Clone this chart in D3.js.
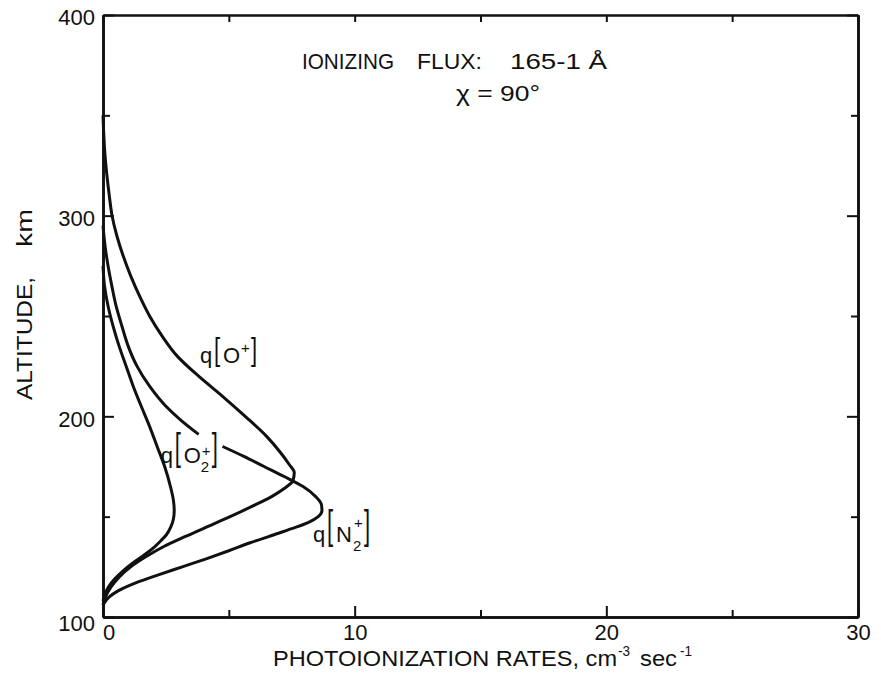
<!DOCTYPE html>
<html>
<head>
<meta charset="utf-8">
<script src="https://cdn.jsdelivr.net/npm/d3@7"></script>
<style>
  body { margin: 0; background: #fff; }
  text { font-family: "Liberation Sans", Arial, sans-serif; fill: #111; }
  .axis path, .axis line { stroke: #111; }
</style>
</head>
<body>
<script>
// altitude (km) and photoionization rate (cm^-3 sec^-1)
const oPlusAlt  = [350, 330, 310, 300, 290, 280, 270, 260, 250, 240, 230, 220, 210, 200, 190, 182, 176, 172, 168, 164, 160, 155, 150, 145, 140, 135, 130, 125, 120, 115, 110, 106];
const oPlusRate = [0, 0.08, 0.25, 0.36, 0.55, 0.8, 1.1, 1.45, 1.85, 2.35, 2.95, 3.8, 4.75, 5.65, 6.5, 7.05, 7.4, 7.6, 7.55, 7.2, 6.7, 5.9, 5.05, 4.15, 3.25, 2.4, 1.7, 1.1, 0.65, 0.32, 0.1, 0];

const n2PlusAlt  = [295, 285, 275, 265, 255, 245, 235, 225, 215, 205, 198, 191, 188, 185, 180, 175, 170, 165, 160, 156, 153, 150, 147, 144, 141, 137, 133, 129, 125, 121, 117, 113, 110, 106];
const n2PlusRate = [0, 0.08, 0.2, 0.35, 0.52, 0.75, 1.0, 1.35, 1.85, 2.5, 3.1, 3.8, null, 4.75, 5.6, 6.4, 7.2, 7.95, 8.45, 8.68, 8.7, 8.55, 8.15, 7.5, 6.8, 5.85, 5.0, 4.1, 3.15, 2.2, 1.3, 0.6, 0.25, 0];

const o2PlusAlt  = [275, 265, 255, 245, 235, 225, 215, 205, 195, 185, 175, 165, 158, 153, 149, 145, 141, 138, 135, 131, 127, 123, 119, 115, 111, 108];
const o2PlusRate = [0, 0.06, 0.2, 0.4, 0.64, 0.92, 1.2, 1.52, 1.85, 2.15, 2.45, 2.68, 2.8, 2.83, 2.8, 2.7, 2.52, 2.3, 2.05, 1.65, 1.2, 0.8, 0.47, 0.22, 0.07, 0];

const xMajor = [0, 10, 20, 30];
const xMinor = [5, 15, 25];
const yMajor = [100, 200, 300, 400];
const yMinor = [150, 250, 350];

const margin = {top: 15, right: 23, bottom: 63, left: 103},
      width = 881 - margin.left - margin.right,
      height = 680 - margin.top - margin.bottom;

const x = d3.scaleLinear().domain([0, 30]).range([0, width]);
const y = d3.scaleLinear().domain([100, 400]).range([height, 0]);

const svg = d3.select("body").append("svg")
              .attr("width", 881)
              .attr("height", 680);

const g = svg.append("g").attr("transform", "translate(" + margin.left + "," + margin.top + ")");

// frame + inward ticks on all four sides
function styleAxis(sel) {
  sel.select(".domain").attr("stroke-width", 2.6);
  sel.selectAll(".tick line").attr("stroke-width", 2);
}

g.append("g").attr("class", "axis").attr("transform", "translate(0," + height + ")")
  .call(d3.axisBottom(x).tickValues(xMajor).tickSize(-11).tickSizeOuter(0).tickPadding(7).tickFormat(d3.format("d")))
  .call(styleAxis)
  .call(s => s.selectAll("text").style("font-size", "22px"));
g.append("g").attr("class", "axis").attr("transform", "translate(0," + height + ")")
  .call(d3.axisBottom(x).tickValues(xMinor).tickSize(-7).tickSizeOuter(0).tickFormat(""))
  .call(styleAxis);

g.append("g").attr("class", "axis")
  .call(d3.axisTop(x).tickValues(xMajor.concat(xMinor)).tickSize(-7).tickSizeOuter(0).tickFormat(""))
  .call(styleAxis);

g.append("g").attr("class", "axis")
  .call(d3.axisLeft(y).tickValues(yMajor).tickSize(-11).tickSizeOuter(0).tickPadding(8).tickFormat(d3.format("d")))
  .call(styleAxis)
  .call(s => s.selectAll("text").style("font-size", "22px").attr("dy", "0.45em"));
g.append("g").attr("class", "axis")
  .call(d3.axisLeft(y).tickValues(yMinor).tickSize(-7).tickSizeOuter(0).tickFormat(""))
  .call(styleAxis);

g.append("g").attr("class", "axis").attr("transform", "translate(" + width + ",0)")
  .call(d3.axisRight(y).tickValues(yMajor).tickSize(-11).tickSizeOuter(0).tickFormat(""))
  .call(styleAxis);
g.append("g").attr("class", "axis").attr("transform", "translate(" + width + ",0)")
  .call(d3.axisRight(y).tickValues(yMinor).tickSize(-7).tickSizeOuter(0).tickFormat(""))
  .call(styleAxis);

// nudge the corner labels apart like the original
g.selectAll(".axis .tick text").filter(d => d === 0).attr("dx", "0.25em");
g.selectAll(".axis .tick text").filter(d => d === 100).attr("dy", "0.6em");

// curves (rate is single valued in altitude, so interpolate along y)
const line = d3.line()
  .defined(d => d.rate !== null)
  .x(d => x(d.rate))
  .y(d => y(d.alt))
  .curve(d3.curveMonotoneY);

const series = [
  d3.zip(oPlusAlt, oPlusRate),
  d3.zip(n2PlusAlt, n2PlusRate),
  d3.zip(o2PlusAlt, o2PlusRate)
].map(s => s.map(([alt, rate]) => ({alt, rate})));

g.selectAll(".curve")
  .data(series)
  .enter().append("path")
    .attr("class", "curve")
    .attr("d", line)
    .attr("fill", "none")
    .attr("stroke", "#111")
    .attr("stroke-width", 3);

// curve labels q[ion]
function ionLabel(rate, alt, ion, bracketScale, sup, sub) {
  const lab = g.append("g").attr("transform", "translate(" + x(rate) + "," + y(alt) + ")");
  lab.append("text").attr("x", 0).style("font-size", "22px").text("q");
  lab.append("text").attr("transform", "translate(14,-3) scale(1," + bracketScale + ")")
     .style("font-size", "22px").text("[");
  lab.append("text").attr("x", 23).style("font-size", "22px").text(ion);
  lab.append("text").attr("x", 41).attr("y", sup).style("font-size", "15px").text("+");
  if (sub) lab.append("text").attr("x", 40).attr("y", 9).style("font-size", "15px").text("2");
  lab.append("text").attr("transform", "translate(51,-3) scale(1," + bracketScale + ")")
     .style("font-size", "22px").text("]");
}

ionLabel(3.85, 226.6, "O", 1.45, -10, false);
ionLabel(2.29, 176.7, "O", 1.75, -7, true);
ionLabel(8.34, 137.4, "N", 1.85, -14, true);

// titles, stretched to the widths of the original lettering
function label(tx, ty, str, len, size) {
  return svg.append("text").attr("x", tx).attr("y", ty)
    .style("font-size", size + "px")
    .attr("textLength", len).attr("lengthAdjust", "spacingAndGlyphs")
    .text(str);
}
label(302, 69, "IONIZING", 92, 22);
label(417, 69, "FLUX:", 65, 22);
label(510, 69, "165-1 Å", 97, 22);
label(456, 101, "χ = 90°", 84, 22);

// x axis title
label(273, 666, "PHOTOIONIZATION RATES, cm", 344, 22);
label(618, 656, "-3", 12, 15);
label(640, 666, "sec", 37, 22);
label(680, 656, "-1", 12, 15);

// y axis title
const yt = svg.append("g").attr("transform", "translate(32,400) rotate(-90)");
yt.append("text").attr("x", 0).style("font-size", "22px")
  .attr("textLength", 123).attr("lengthAdjust", "spacingAndGlyphs").text("ALTITUDE,");
yt.append("text").attr("x", 153).style("font-size", "22px")
  .attr("textLength", 38).attr("lengthAdjust", "spacingAndGlyphs").text("km");
</script>
</body>
</html>
